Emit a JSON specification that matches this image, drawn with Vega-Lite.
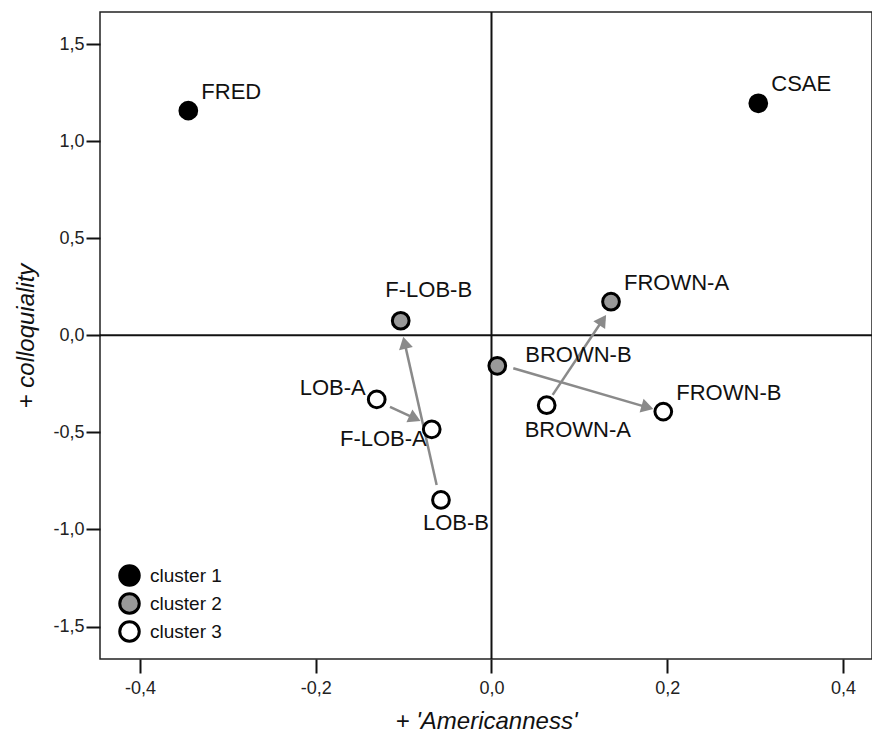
{
  "$schema": "https://vega.github.io/schema/vega-lite/v6.json",
  "width": 772,
  "height": 647,
  "autosize": {"type": "none"},
  "padding": {"left": 100, "top": 12, "right": 0, "bottom": 77},
  "background": "white",
  "config": {
    "view": {"stroke": "#222", "strokeWidth": 1.5},
    "font": "Liberation Sans",
    "axis": {
      "domain": false, "grid": false,
      "tickColor": "#111", "tickWidth": 2, "tickSize": 14,
      "labelFont": "Liberation Sans", "labelFontSize": 18, "labelColor": "#222",
      "titleFont": "Liberation Sans", "titleFontSize": 24, "titleFontStyle": "italic", "titleFontWeight": "normal", "titleColor": "#111"
    }
  },
  "datasets": {
    "pts": [
      {"label": "FRED", "x": -0.345, "y": 1.157, "cluster": "cluster 1"},
      {"label": "CSAE", "x": 0.3036, "y": 1.195, "cluster": "cluster 1"},
      {"label": "F-LOB-B", "x": -0.1033, "y": 0.075, "cluster": "cluster 2"},
      {"label": "FROWN-A", "x": 0.136, "y": 0.173, "cluster": "cluster 2"},
      {"label": "BROWN-B", "x": 0.0066, "y": -0.157, "cluster": "cluster 2"},
      {"label": "LOB-A", "x": -0.1306, "y": -0.330, "cluster": "cluster 3"},
      {"label": "F-LOB-A", "x": -0.068, "y": -0.484, "cluster": "cluster 3"},
      {"label": "BROWN-A", "x": 0.0628, "y": -0.360, "cluster": "cluster 3"},
      {"label": "FROWN-B", "x": 0.1955, "y": -0.393, "cluster": "cluster 3"},
      {"label": "LOB-B", "x": -0.0575, "y": -0.848, "cluster": "cluster 3"}
    ],
    "arrows": [
      {"from": "LOB-B", "to": "F-LOB-B", "x": -0.0624, "y": -0.771, "x2": -0.0989, "y2": -0.0376},
      {"from": "LOB-A", "to": "F-LOB-A", "x": -0.1155, "y": -0.368, "x2": -0.0871, "y2": -0.428},
      {"from": "BROWN-A", "to": "FROWN-A", "x": 0.0696, "y": -0.307, "x2": 0.1265, "y2": 0.0788},
      {"from": "BROWN-B", "to": "FROWN-B", "x": 0.0248, "y": -0.170, "x2": 0.1775, "y2": -0.371}
    ]
  },
  "layer": [
    {
      "data": {"values": [{"v": 0}]},
      "mark": {"type": "rule", "color": "#111", "strokeWidth": 2},
      "encoding": {
        "x": {"field": "v", "type": "quantitative", "scale": {"domain": [-0.4455, 0.433], "nice": false, "zero": false},
          "axis": {"values": [-0.4, -0.2, 0, 0.2, 0.4], "title": "+ 'Americanness'", "labelPadding": 6, "titlePadding": 12,
            "labelExpr": "replace(replace(format(datum.value, '.1f'), '.', ','), '\u2212', '-')"}}
      }
    },
    {
      "data": {"values": [{"v": 0}]},
      "mark": {"type": "rule", "color": "#111", "strokeWidth": 2},
      "encoding": {
        "y": {"field": "v", "type": "quantitative", "scale": {"domain": [-1.667, 1.665], "nice": false, "zero": false},
          "axis": {"values": [-1.5, -1, -0.5, 0, 0.5, 1, 1.5], "title": "+ colloquiality", "labelPadding": 2, "titlePadding": 14,
            "labelExpr": "replace(replace(format(datum.value, '.1f'), '.', ','), '\u2212', '-')"}}
      }
    },
    {
      "data": {"name": "arrows"},
      "mark": {"type": "rule", "color": "#8a8a8a", "strokeWidth": 2.5},
      "encoding": {
        "x": {"field": "x", "type": "quantitative"},
        "y": {"field": "y", "type": "quantitative"},
        "x2": {"field": "x2"},
        "y2": {"field": "y2"}
      }
    },
    {
      "data": {"name": "arrows"},
      "transform": [
        {"calculate": "atan2((datum.x2 - datum.x) * 878.75, (datum.y2 - datum.y) * 194.2) * 180 / PI", "as": "heading"}
      ],
      "mark": {"type": "point", "shape": "triangle-up", "filled": true, "color": "#8a8a8a", "size": 200, "opacity": 1},
      "encoding": {
        "x": {"field": "x2", "type": "quantitative"},
        "y": {"field": "y2", "type": "quantitative"},
        "angle": {"field": "heading", "type": "quantitative", "scale": null}
      }
    },
    {
      "data": {"name": "pts"},
      "mark": {"type": "point", "shape": "circle", "filled": true, "stroke": "#000", "strokeWidth": 3, "size": 280, "opacity": 1},
      "encoding": {
        "x": {"field": "x", "type": "quantitative"},
        "y": {"field": "y", "type": "quantitative"},
        "fill": {"field": "cluster", "type": "nominal",
          "scale": {"domain": ["cluster 1", "cluster 2", "cluster 3"], "range": ["#000000", "#999999", "#ffffff"]},
          "legend": {"title": null, "orient": "none", "legendX": 18, "legendY": 552, "padding": 0,
            "symbolType": "circle", "symbolSize": 380, "symbolStrokeColor": "#000", "symbolStrokeWidth": 3,
            "symbolOpacity": 1, "labelFontSize": 19, "labelFont": "Liberation Sans", "labelColor": "#111", "labelOffset": 9, "rowPadding": -5.5}}
      }
    },
    {
      "data": {"name": "pts"},
      "transform": [{"filter": "indexof(['FRED','CSAE','FROWN-A','FROWN-B'], datum.label) >= 0"}],
      "mark": {"type": "text", "align": "left", "baseline": "alphabetic", "dx": 13, "dy": -12, "fontSize": 22, "color": "#111"},
      "encoding": {"x": {"field": "x", "type": "quantitative"}, "y": {"field": "y", "type": "quantitative"}, "text": {"field": "label"}}
    },
    {
      "data": {"name": "pts"},
      "transform": [{"filter": "datum.label == 'BROWN-B'"}],
      "mark": {"type": "text", "align": "left", "baseline": "alphabetic", "dx": 28, "dy": -4, "fontSize": 22, "color": "#111"},
      "encoding": {"x": {"field": "x", "type": "quantitative"}, "y": {"field": "y", "type": "quantitative"}, "text": {"field": "label"}}
    },
    {
      "data": {"name": "pts"},
      "transform": [{"filter": "datum.label == 'LOB-A'"}],
      "mark": {"type": "text", "align": "right", "baseline": "alphabetic", "dx": -11, "dy": -4, "fontSize": 22, "color": "#111"},
      "encoding": {"x": {"field": "x", "type": "quantitative"}, "y": {"field": "y", "type": "quantitative"}, "text": {"field": "label"}}
    },
    {
      "data": {"name": "pts"},
      "transform": [{"filter": "datum.label == 'F-LOB-A'"}],
      "mark": {"type": "text", "align": "right", "baseline": "alphabetic", "dx": -5, "dy": 17, "fontSize": 22, "color": "#111"},
      "encoding": {"x": {"field": "x", "type": "quantitative"}, "y": {"field": "y", "type": "quantitative"}, "text": {"field": "label"}}
    },
    {
      "data": {"name": "pts"},
      "transform": [{"filter": "datum.label == 'F-LOB-B'"}],
      "mark": {"type": "text", "align": "center", "baseline": "alphabetic", "dx": 28, "dy": -24, "fontSize": 22, "color": "#111"},
      "encoding": {"x": {"field": "x", "type": "quantitative"}, "y": {"field": "y", "type": "quantitative"}, "text": {"field": "label"}}
    },
    {
      "data": {"name": "pts"},
      "transform": [{"filter": "datum.label == 'LOB-B'"}],
      "mark": {"type": "text", "align": "left", "baseline": "alphabetic", "dx": -18, "dy": 30, "fontSize": 22, "color": "#111"},
      "encoding": {"x": {"field": "x", "type": "quantitative"}, "y": {"field": "y", "type": "quantitative"}, "text": {"field": "label"}}
    },
    {
      "data": {"name": "pts"},
      "transform": [{"filter": "datum.label == 'BROWN-A'"}],
      "mark": {"type": "text", "align": "left", "baseline": "alphabetic", "dx": -22, "dy": 32, "fontSize": 22, "color": "#111"},
      "encoding": {"x": {"field": "x", "type": "quantitative"}, "y": {"field": "y", "type": "quantitative"}, "text": {"field": "label"}}
    }
  ]
}
